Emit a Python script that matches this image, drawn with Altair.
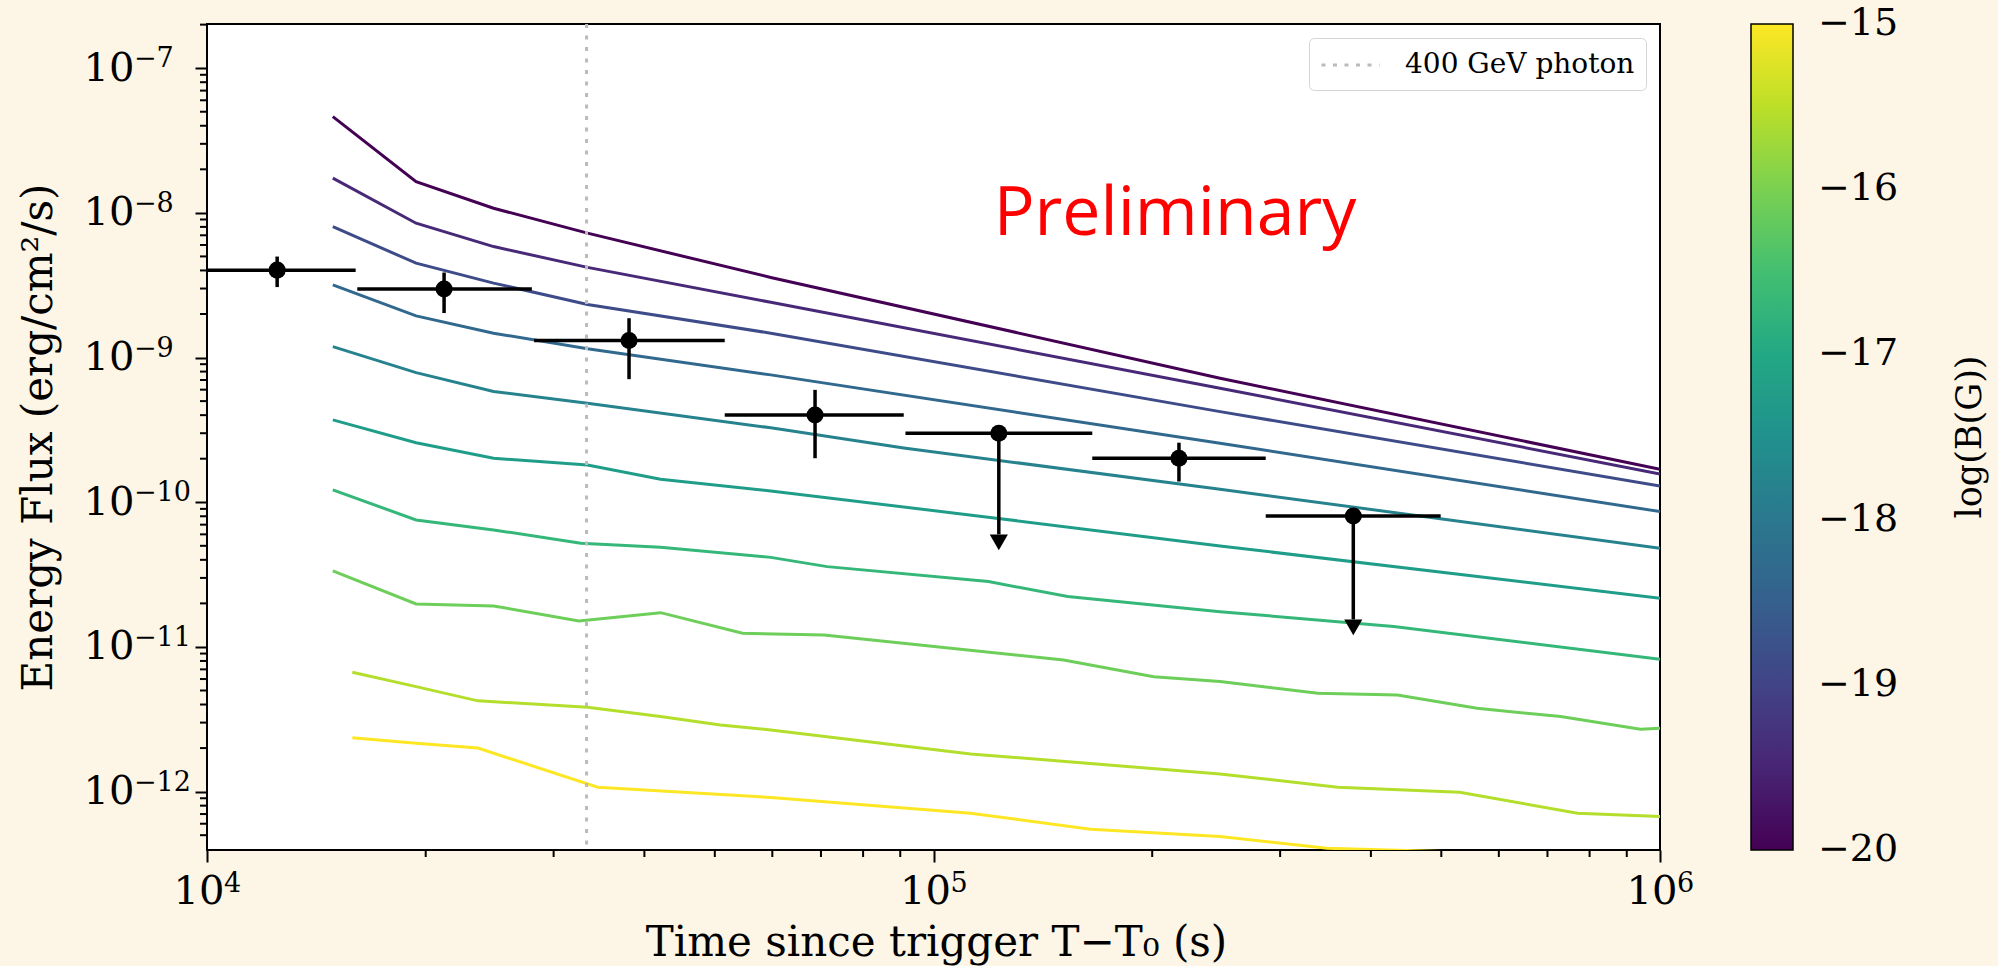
import altair as alt
import pandas as pd

# ---------------- data ----------------
# model curves (log10 of magnetic field in G)
LOG_B = [-20.0, -19.44, -18.89, -18.33, -17.78, -17.22, -16.67, -16.11, -15.56, -15.0]

t_c1 = [1.49e4, 1.94e4, 2.48e4, 3.34e4, 5.97e4, 2.48e5, 1.0e6]
f_c1 = [4.63e-8, 1.645e-8, 1.077e-8, 7.24e-9, 3.58e-9, 7.2e-10, 1.69e-10]
t_c2 = [1.49e4, 1.94e4, 2.48e4, 3.34e4, 5.97e4, 2.48e5, 1.0e6]
f_c2 = [1.737e-8, 8.48e-9, 5.85e-9, 4.2e-9, 2.41e-9, 6.14e-10, 1.57e-10]
t_c3 = [1.49e4, 1.94e4, 2.48e4, 3.34e4, 5.97e4, 2.48e5, 1.0e6]
f_c3 = [8.04e-9, 4.49e-9, 3.27e-9, 2.33e-9, 1.474e-9, 4.23e-10, 1.297e-10]
t_c4 = [1.49e4, 1.94e4, 2.48e4, 3.34e4, 5.97e4, 2.48e5, 1.0e6]
f_c4 = [3.18e-9, 1.94e-9, 1.474e-9, 1.15e-9, 7.59e-10, 2.56e-10, 8.62e-11]
t_c5 = [1.49e4, 1.94e4, 2.48e4, 3.34e4, 5.97e4, 9.1e4, 2.48e5, 1.0e6]
f_c5 = [1.19e-9, 7.87e-10, 5.82e-10, 4.84e-10, 3.27e-10, 2.37e-10, 1.231e-10, 4.81e-11]
t_c6 = [1.49e4, 1.94e4, 2.48e4, 3.34e4, 4.21e4, 5.97e4, 1.22e5, 2.48e5, 1.0e6]
f_c6 = [3.71e-10, 2.58e-10, 2.015e-10, 1.81e-10, 1.443e-10, 1.198e-10, 7.76e-11, 4.99e-11, 2.17e-11]
t_c7 = [1.49e4, 1.94e4, 2.48e4, 3.27e4, 4.21e4, 5.97e4, 7.14e4, 1.19e5, 1.53e5, 2.48e5, 4.30e5, 1.0e6]
f_c7 = [1.217e-10, 7.55e-11, 6.44e-11, 5.21e-11, 4.89e-11, 4.16e-11, 3.59e-11, 2.83e-11, 2.23e-11,
        1.754e-11, 1.382e-11, 8.23e-12]
t_c8 = [1.49e4, 1.94e4, 2.48e4, 3.25e4, 4.21e4, 5.46e4, 7.07e4, 1.51e5, 2.01e5, 2.48e5, 3.38e5,
        4.35e5, 5.60e5, 7.30e5, 9.40e5, 1.0e6]
f_c8 = [3.35e-11, 1.982e-11, 1.921e-11, 1.513e-11, 1.726e-11, 1.244e-11, 1.21e-11, 8.13e-12,
        6.23e-12, 5.76e-12, 4.79e-12, 4.66e-12, 3.77e-12, 3.30e-12, 2.70e-12, 2.74e-12]
t_c9 = [1.585e4, 1.94e4, 2.36e4, 3.34e4, 4.21e4, 5.09e4, 5.97e4, 1.125e5, 2.48e5, 3.6e5, 5.3e5,
        7.7e5, 1.0e6]
f_c9 = [6.69e-12, 5.32e-12, 4.24e-12, 3.83e-12, 3.30e-12, 2.89e-12, 2.67e-12, 1.822e-12,
        1.326e-12, 1.073e-12, 9.9e-13, 7.09e-13, 6.72e-13]
t_c10 = [1.585e4, 1.94e4, 2.36e4, 3.45e4, 5.97e4, 1.125e5, 1.645e5, 2.48e5, 3.48e5, 1.0e6]
f_c10 = [2.36e-12, 2.16e-12, 2.0e-12, 1.073e-12, 9.12e-13, 7.09e-13, 5.50e-13, 4.89e-13,
         4.06e-13, 3.5e-13]

CURVE_T = [t_c1, t_c2, t_c3, t_c4, t_c5, t_c6, t_c7, t_c8, t_c9, t_c10]
CURVE_F = [f_c1, f_c2, f_c3, f_c4, f_c5, f_c6, f_c7, f_c8, f_c9, f_c10]

# measured fluxes
pt_t = [1.249e4, 2.12e4, 3.81e4, 6.87e4, 1.23e5, 2.177e5, 3.783e5]
pt_f = [4.02e-9, 2.98e-9, 1.31e-9, 4.01e-10, 3.0e-10, 2.015e-10, 8.04e-11]
pt_tlo = [9.7e3, 1.61e4, 2.82e4, 5.16e4, 9.15e4, 1.654e5, 2.866e5]
pt_thi = [1.602e4, 2.80e4, 5.16e4, 9.10e4, 1.654e5, 2.866e5, 4.99e5]
pt_flo = [3.07e-9, 2.03e-9, 7.09e-10, 2.015e-10, 6.0e-11, 1.39e-10, 1.55e-11]
pt_fhi = [4.99e-9, 3.87e-9, 1.87e-9, 5.98e-10, 3.0e-10, 2.58e-10, 8.04e-11]
pt_ul = [False, False, False, False, True, False, True]

PHOTON_T = [3.33e4]
PHOTON_LABEL = ["400 GeV photon"]

PRELIM_T = [1.21e5]
PRELIM_F = [7.05e-9]

# axes
X_DOMAIN = [1e4, 1e6]
Y_DOMAIN = [3.95e-13, 2.02e-7]
X_EXP = [4, 5, 6]
Y_EXP = [-12, -11, -10, -9, -8, -7]
CB_VALUES = [-20, -19, -18, -17, -16, -15]
CB_DOMAIN = [-20.001, -14.999]

# ---------------- tables ----------------
rows = []
for i, (ts, fs) in enumerate(zip(CURVE_T, CURVE_F)):
    for t, f in zip(ts, fs):
        rows.append({"t": t, "F": f, "logB": LOG_B[i], "curve": i})
df_lines = pd.DataFrame(rows)

df_pts = pd.DataFrame({"t": pt_t, "F": pt_f, "tlo": pt_tlo, "thi": pt_thi,
                       "flo": pt_flo, "fhi": pt_fhi, "ul": pt_ul})
df_ul = df_pts[df_pts["ul"]]

df_photon = pd.DataFrame({"t": PHOTON_T, "label": PHOTON_LABEL})
df_prelim = pd.DataFrame({"t": PRELIM_T, "F": PRELIM_F, "txt": ["Preliminary"]})

MINUS = "\u2212"


def exp_str(e):
    return (MINUS + str(-e)) if e < 0 else str(e)


df_xexp = pd.DataFrame({"t": [10.0 ** e for e in X_EXP], "lab": [exp_str(e) for e in X_EXP]})
df_yexp = pd.DataFrame({"F": [10.0 ** e for e in Y_EXP], "lab": [exp_str(e) for e in Y_EXP]})
x_minor = [m * 10.0 ** e for e in (4, 5) for m in range(2, 10)]
y_minor = [m * 10.0 ** e for e in range(-13, -6) for m in range(2, 10)]
y_minor = [v for v in y_minor if Y_DOMAIN[0] * 1.05 < v < Y_DOMAIN[1] * 1.01]
df_xminor = pd.DataFrame({"t": x_minor})
df_yminor = pd.DataFrame({"F": y_minor})

# ---------------- layout ----------------
W, H = 1453, 826
PAD_L, PAD_T = 207, 24
SERIF = "DejaVu Serif"

xs = alt.Scale(type="log", domain=X_DOMAIN, nice=False)
ys = alt.Scale(type="log", domain=Y_DOMAIN, nice=False)

x_axis = alt.Axis(values=[10.0 ** e for e in X_EXP], labelExpr="'10'", labelAlign="right",
                  labelOffset=17, labelBaseline="alphabetic", labelPadding=41, labelFlush=False,
                  labelFont=SERIF, labelFontSize=40, labelColor="black",
                  tickSize=12, tickWidth=2, tickColor="black", domain=False, grid=False,
                  title="Time since trigger T\u2212T\u2080 (s)", titleFont=SERIF, titleFontSize=42,
                  titleFontWeight="normal", titleColor="black", titleX=729, titleY=105,
                  titleAlign="center", titleBaseline="alphabetic", titleAngle=0)
y_axis = alt.Axis(values=[10.0 ** e for e in Y_EXP], labelExpr="'10'", labelPadding=61,
                  labelFlush=False, labelFont=SERIF, labelFontSize=40, labelColor="black",
                  tickSize=12, tickWidth=2, tickColor="black", domain=False, grid=False,
                  title="Energy Flux (erg/cm\u00b2/s)", titleFont=SERIF, titleFontSize=42,
                  titleFontWeight="normal", titleColor="black", titleX=-169, titleY=H / 2,
                  titleAlign="center", titleBaseline="middle", titleAngle=270)


def X(field="t"):
    return alt.X(f"{field}:Q", scale=xs, axis=x_axis)


def Y(field="F"):
    return alt.Y(f"{field}:Q", scale=ys, axis=y_axis)


lines = alt.Chart(df_lines).mark_line(strokeWidth=3, clip=True).encode(
    x=X(), y=Y(),
    color=alt.Color("logB:Q", scale=alt.Scale(scheme="viridis", domain=CB_DOMAIN),
                    legend=alt.Legend(orient="none", legendX=1544, legendY=0, direction="vertical",
                                      type="gradient", gradientLength=H, gradientThickness=42,
                                      title=None, values=CB_VALUES,
                                      labelExpr="'\u2212' + abs(datum.value)",
                                      labelFont=SERIF, labelFontSize=38, labelColor="black",
                                      labelOffset=25, labelOverlap=False,
                                      gradientStrokeColor="black", gradientStrokeWidth=1.5,
                                      padding=0)),
    detail="curve:N",
)

# line sample of the legend: a horizontal stroke twice as long as the symbol box
photon = alt.Chart(df_photon).mark_rule(color="#bbbbbb", strokeWidth=3).encode(
    x=X(),
    strokeDash=alt.StrokeDash("label:N", scale=alt.Scale(domain=PHOTON_LABEL, range=[[4, 7.5]]),
                              legend=alt.Legend(title=None, orient="top-right", offset=14,
                                                fillColor="white", strokeColor="#d5d5d5",
                                                cornerRadius=5, padding=11, labelFont=SERIF,
                                                labelFontSize=28, labelColor="black",
                                                labelOffset=53, labelLimit=400,
                                                symbolType="M-1,0H3", symbolStrokeColor="#bbbbbb",
                                                symbolStrokeWidth=3, symbolSize=841)),
)

xerr = alt.Chart(df_pts).mark_rule(color="black", strokeWidth=3.5, clip=True).encode(
    x=X("tlo"), x2="thi:Q", y=Y())
yerr = alt.Chart(df_pts).mark_rule(color="black", strokeWidth=3.5, clip=True).encode(
    x=X(), y=Y("flo"), y2="fhi:Q")
pts = alt.Chart(df_pts).mark_circle(size=290, color="black", opacity=1).encode(x=X(), y=Y())
arrows = alt.Chart(df_ul).mark_point(shape="triangle-down", filled=True, size=330, color="black",
                                     opacity=1, yOffset=8).encode(x=X(), y=Y("flo"))

prelim = alt.Chart(df_prelim).mark_text(font="Open Sans", fontSize=68, color="#ff0000",
                                        align="left", baseline="alphabetic").encode(
    x=X(), y=Y(), text="txt:N")

yminor = alt.Chart(df_yminor).mark_rule(color="black", strokeWidth=2).encode(
    y=Y(), x=alt.value(0), x2=alt.value(-7))
xminor = alt.Chart(df_xminor).mark_rule(color="black", strokeWidth=2).encode(
    x=X(), y=alt.value(H), y2=alt.value(H + 7))

yexp = alt.Chart(df_yexp).mark_text(font=SERIF, fontSize=27, color="black", align="left",
                                    baseline="alphabetic", dy=-1).encode(
    y=Y(), x=alt.value(-73), text="lab:N")
xexp = alt.Chart(df_xexp).mark_text(font=SERIF, fontSize=27, color="black", align="left",
                                    baseline="alphabetic", dx=17).encode(
    x=X(), y=alt.value(H + 42), text="lab:N")

cbtitle = alt.Chart(pd.DataFrame({"a": [0]})).mark_text(
    font=SERIF, fontSize=35, color="black", angle=270, align="center", baseline="middle").encode(
    x=alt.value(1970 - PAD_L), y=alt.value(H / 2), text=alt.value("log(B(G))"))

chart = alt.layer(
    lines, photon, xerr, yerr, pts, arrows, prelim, yminor, xminor, yexp, xexp, cbtitle
).properties(
    width=W, height=H,
    autosize=alt.AutoSizeParams(type="none"),
    padding={"left": PAD_L, "top": PAD_T, "right": 1998 - PAD_L - W, "bottom": 966 - PAD_T - H},
    background="#fdf6e6",
).configure_view(stroke="black", strokeWidth=2, fill="white")

chart.save("out.html", embed_options={"renderer": "svg", "actions": False})
